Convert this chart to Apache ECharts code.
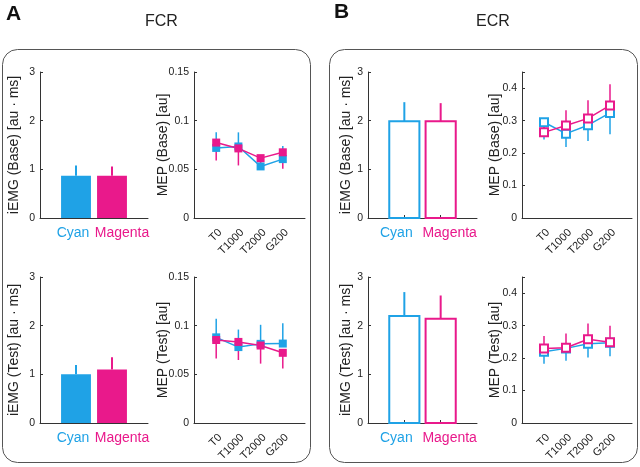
<!DOCTYPE html>
<html><head><meta charset="utf-8">
<script src="https://cdn.jsdelivr.net/npm/echarts@6/dist/echarts.min.js"></script>
<style>html,body{margin:0;padding:0;background:#fff}#c{width:640px;height:467px}</style>
</head><body><div id="c"></div>
<script>
// ---- data ----
var barCats = ['', 'Cyan', 'Magenta', ''];
var mepCats = ['', 'T0', 'T1000', 'T2000', 'G200', ''];
var barTicks = [0, 1, 2, 3];
var fcrMepTicks = [0, 0.05, 0.1, 0.15];
var ecrMepTicks = [0, 0.1, 0.2, 0.3, 0.4];

var fcrBaseBar = [0.87, 0.87];
var fcrBaseBarErr = [0.21, 0.19];
var fcrTestBar = [1.0, 1.1];
var fcrTestBarErr = [0.19, 0.25];
var ecrBaseBar = [1.99, 1.99];
var ecrBaseBarErr = [0.39, 0.37];
var ecrTestBar = [2.2, 2.14];
var ecrTestBarErr = [0.49, 0.48];

var fcrBaseCyan = [0.072, 0.0735, 0.053, 0.0605];
var fcrBaseCyanErr = [0.016, 0.0145, 0.004, 0.0135];
var fcrBaseMag = [0.0775, 0.0715, 0.0615, 0.0675];
var fcrBaseMagErr = [0.0185, 0.0175, 0.005, 0.017];
var fcrTestCyan = [0.088, 0.078, 0.0813, 0.0816];
var fcrTestCyanErr = [0.019, 0.018, 0.0196, 0.021];
var fcrTestMag = [0.0853, 0.0833, 0.0796, 0.0721];
var fcrTestMagErr = [0.019, 0.0186, 0.0186, 0.0162];
var ecrBaseCyan = [0.295, 0.26, 0.286, 0.324];
var ecrBaseCyanErr = [0.053, 0.041, 0.049, 0.066];
var ecrBaseMag = [0.264, 0.285, 0.307, 0.347];
var ecrBaseMagErr = [0.04, 0.047, 0.056, 0.065];
var ecrTestCyan = [0.2196, 0.23, 0.244, 0.247];
var ecrTestCyanErr = [0.037, 0.038, 0.042, 0.041];
var ecrTestMag = [0.23, 0.232, 0.258, 0.249];
var ecrTestMagErr = [0.038, 0.044, 0.049, 0.051];

// ---- styles ----
var CYAN = '#1fa2e6', MAG = '#e9198b', AX = '#333', FONT = 'Liberation Sans, Arial, sans-serif';

var grids = [
  {left: 40, top: 72, width: 108, height: 146},
  {left: 194, top: 72, width: 111, height: 146},
  {left: 368, top: 72, width: 109, height: 146},
  {left: 522, top: 72, width: 110, height: 146},
  {left: 40, top: 277, width: 108, height: 146},
  {left: 194, top: 277, width: 111, height: 146},
  {left: 368, top: 277, width: 109, height: 146},
  {left: 522, top: 277, width: 110, height: 146}
];
var isBar = [true, false, true, false, true, false, true, false];
var isEcr = [false, false, true, true, false, false, true, true];
var yNames = ['iEMG (Base) [au \u00b7 ms]', 'MEP (Base) [au]', 'iEMG (Base) [au \u00b7 ms]', 'MEP (Base) [au]',
              'iEMG (Test) [au \u00b7 ms]', 'MEP (Test) [au]', 'iEMG (Test) [au \u00b7 ms]', 'MEP (Test) [au]'];
var yMax = [3, 0.15, 3, 0.45, 3, 0.15, 3, 0.45];
var yInt = [1, 0.05, 1, 0.1, 1, 0.05, 1, 0.1];
var nameGaps = [19, 24, 15, 20, 19, 24, 15, 20];
var yTickLists = [barTicks, fcrMepTicks, barTicks, ecrMepTicks, barTicks, fcrMepTicks, barTicks, ecrMepTicks];

var xAxes = [], yAxes = [];
grids.forEach(function (g, i) {
  var bar = isBar[i];
  var ecr = isEcr[i];
  xAxes.push({
    gridIndex: i, type: 'category', boundaryGap: false,
    data: bar ? barCats : mepCats,
    axisLine: {lineStyle: {color: AX, width: 1}},
    axisTick: {show: bar, inside: true, length: 3, lineStyle: {color: AX},
      interval: function (idx) { return idx === 1 || idx === 2; }},
    axisLabel: bar ? {
      interval: 0, fontSize: 14, fontFamily: FONT, margin: 8,
      formatter: function (v) { return v === 'Cyan' ? '{c|Cyan}' : (v === 'Magenta' ? '{m|Magenta}' : ''); },
      rich: {
        c: {color: CYAN, fontSize: 14, fontFamily: FONT, padding: ecr ? [0, 16, 0, 0] : [0, 6, 0, 0]},
        m: {color: MAG, fontSize: 14, fontFamily: FONT, padding: ecr ? [0, 0, 0, 18] : [0, 0, 0, 20]}
      }
    } : {
      interval: 0, rotate: 45, fontSize: 11, fontFamily: FONT, color: '#222', margin: 9,
      verticalAlign: 'top'
    },
    splitLine: {show: false}
  });
  var ticks = yTickLists[i];
  yAxes.push({
    gridIndex: i, type: 'value', min: 0, max: yMax[i], interval: yInt[i],
    name: yNames[i], nameLocation: 'middle', nameGap: nameGaps[i], nameMoveOverlap: false,
    nameTextStyle: {fontSize: 14, fontFamily: FONT, color: '#222'},
    axisLine: {show: true, lineStyle: {color: AX, width: 1}},
    axisTick: {show: true, inside: true, length: 3, lineStyle: {color: AX}},
    axisLabel: {fontSize: 10.5, fontFamily: FONT, color: '#222', margin: 5,
      formatter: function (v) {
        for (var k = 0; k < ticks.length; k++) { if (Math.abs(ticks[k] - v) < 1e-9) return String(ticks[k]); }
        return '';
      }},
    splitLine: {show: false}
  });
});

function barSeries(idx, vals, errs, hollow) {
  var data = vals.map(function (v, k) { return [k + 1, v, errs[k]]; });
  return {
    type: 'custom', xAxisIndex: idx, yAxisIndex: idx, data: data, z: 3,
    renderItem: function (params, api) {
      var x = api.value(0), v = api.value(1), e = api.value(2);
      var col = x === 1 ? CYAN : MAG;
      var p0 = api.coord([1, 0]), p1 = api.coord([2, 0]);
      var w = (p1[0] - p0[0]) * 0.83;
      var base = api.coord([x, 0]), top = api.coord([x, v]), et = api.coord([x, v + e]);
      var children = [
        {type: 'line', shape: {x1: top[0], y1: top[1], x2: et[0], y2: et[1]},
          style: {stroke: col, lineWidth: 2}},
        {type: 'rect', shape: {x: base[0] - w / 2, y: top[1], width: w, height: base[1] - top[1]},
          style: hollow ? {fill: 'rgba(0,0,0,0)', stroke: col, lineWidth: 2} : {fill: col}}
      ];
      return {type: 'group', children: children};
    }
  };
}

function errSeries(idx, vals, errs, dir, col) {
  var data = vals.map(function (v, k) { return [k + 1, v, errs[k]]; });
  return {
    type: 'custom', xAxisIndex: idx, yAxisIndex: idx, data: data, z: 1,
    renderItem: function (params, api) {
      var x = api.value(0), v = api.value(1), e = api.value(2);
      var a = api.coord([x, v]), b = api.coord([x, v + dir * e]);
      return {type: 'line', shape: {x1: a[0], y1: a[1], x2: b[0], y2: b[1]},
        style: {stroke: col, lineWidth: 1.5}};
    }
  };
}

function lineSeries(idx, vals, col, hollow) {
  var data = vals.map(function (v, k) { return [k + 1, v]; });
  return {
    type: 'line', xAxisIndex: idx, yAxisIndex: idx, data: data, z: 2,
    symbol: hollow ? 'emptyRect' : 'rect', symbolSize: 8,
    lineStyle: {color: col, width: 1.5},
    itemStyle: hollow ? {color: col, borderColor: col, borderWidth: 1.3} : {color: col},
    animation: false
  };
}

var series = [
  barSeries(0, fcrBaseBar, fcrBaseBarErr, false),
  errSeries(1, fcrBaseCyan, fcrBaseCyanErr, 1, CYAN),
  errSeries(1, fcrBaseMag, fcrBaseMagErr, -1, MAG),
  lineSeries(1, fcrBaseCyan, CYAN, false),
  lineSeries(1, fcrBaseMag, MAG, false),
  barSeries(2, ecrBaseBar, ecrBaseBarErr, true),
  errSeries(3, ecrBaseCyan, ecrBaseCyanErr, -1, CYAN),
  errSeries(3, ecrBaseMag, ecrBaseMagErr, 1, MAG),
  lineSeries(3, ecrBaseCyan, CYAN, true),
  lineSeries(3, ecrBaseMag, MAG, true),
  barSeries(4, fcrTestBar, fcrTestBarErr, false),
  errSeries(5, fcrTestCyan, fcrTestCyanErr, 1, CYAN),
  errSeries(5, fcrTestMag, fcrTestMagErr, -1, MAG),
  lineSeries(5, fcrTestCyan, CYAN, false),
  lineSeries(5, fcrTestMag, MAG, false),
  barSeries(6, ecrTestBar, ecrTestBarErr, true),
  errSeries(7, ecrTestCyan, ecrTestCyanErr, -1, CYAN),
  errSeries(7, ecrTestMag, ecrTestMagErr, 1, MAG),
  lineSeries(7, ecrTestCyan, CYAN, true),
  lineSeries(7, ecrTestMag, MAG, true)
];

var chart = echarts.init(document.getElementById('c'), null, {renderer: 'canvas'});
chart.setOption({
  animation: false,
  backgroundColor: '#fff',
  grid: grids,
  xAxis: xAxes,
  yAxis: yAxes,
  series: series,
  graphic: [
    {type: 'rect', shape: {x: 2.5, y: 49.5, width: 308, height: 413, r: 15},
      style: {fill: 'none', stroke: '#555', lineWidth: 1}, z: 0},
    {type: 'rect', shape: {x: 329.5, y: 49.5, width: 308, height: 413, r: 15},
      style: {fill: 'none', stroke: '#555', lineWidth: 1}, z: 0},
    {type: 'text', left: 6, top: 4, style: {text: 'A', font: 'bold 21px ' + FONT, fill: '#111'}},
    {type: 'text', left: 334, top: 2, style: {text: 'B', font: 'bold 21px ' + FONT, fill: '#111'}},
    {type: 'text', left: 145, top: 14, style: {text: 'FCR', font: '16px ' + FONT, fill: '#222'}},
    {type: 'text', left: 476, top: 14, style: {text: 'ECR', font: '16px ' + FONT, fill: '#222'}}
  ]
});
</script>
</body></html>
